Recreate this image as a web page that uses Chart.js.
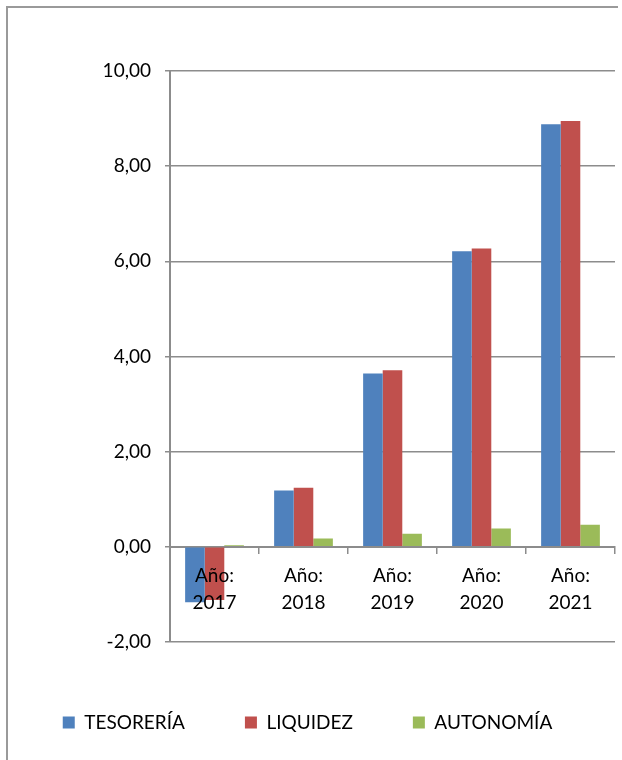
<!DOCTYPE html>
<html>
<head>
<meta charset="utf-8">
<script src="https://cdn.jsdelivr.net/npm/chart.js@4/dist/chart.umd.min.js"></script>
<style>
  html, body { margin: 0; padding: 0; background: #fff; }
  #wrap { position: relative; width: 622px; height: 760px; }
  #frame { position: absolute; left: 6px; top: 6px; width: 610px; height: 760px;
    border-left: 2px solid #9a9a9a; border-top: 2px solid #9a9a9a; }
  canvas { position: absolute; left: 0; top: 0; }
</style>
</head>
<body>
<div id="wrap">
  <div id="frame"></div>
  <canvas id="ratiosChart" width="622" height="760"></canvas>
</div>
<script>
// categories
const years = ['2017', '2018', '2019', '2020', '2021'];
const seriesNames = ['TESORERÍA', 'LIQUIDEZ', 'AUTONOMÍA'];
// series values
const tesoreria = [-1.17, 1.18, 3.64, 6.21, 8.88];
const liquidez = [-1.12, 1.24, 3.71, 6.27, 8.95];
const autonomia = [0.03, 0.17, 0.27, 0.38, 0.46];
// y-axis ticks
const yMin = -2;
const yMax = 10;
const yStep = 2;

const colors = ['#4F81BD', '#C0504D', '#9BBB59'];
const axisGrey = '#8c8c8c';
const font = { family: 'Lato', size: 19 };

const ctx = document.querySelector('#ratiosChart').getContext('2d');

// eslint-disable-next-line no-unused-vars
const ratiosChart = new Chart(ctx, {
  type: 'bar',
  data: {
    labels: years.map((y) => ['Año:', y]),
    datasets: [tesoreria, liquidez, autonomia].map((values, i) => ({
      label: seriesNames[i],
      data: values,
      backgroundColor: colors[i],
      borderWidth: 0,
      categoryPercentage: 0.66,
      barPercentage: 1,
    })),
  },
  options: {
    responsive: false,
    animation: false,
    layout: { padding: { top: 71, right: 7, left: 0, bottom: 18 } },
    plugins: {
      tooltip: { enabled: false },
      legend: {
        position: 'bottom',
        // blank title just to push the legend row down from the plot
        title: { display: true, text: ' ', font: { size: 1 }, padding: 5 },
        labels: {
          color: '#000',
          font,
          boxWidth: 12,
          boxHeight: 12,
          padding: 60,
        },
      },
    },
    scales: {
      x: {
        position: { y: 0 },
        grid: {
          drawOnChartArea: false,
          drawTicks: true,
          tickLength: 6,
          offset: true,
          color: axisGrey,
          lineWidth: 1.5,
        },
        border: { display: true, color: axisGrey, width: 2 },
        ticks: {
          z: 1, // year labels sit on top of the negative bars
          color: '#000',
          font: { ...font, lineHeight: 1.42 },
          padding: 10,
          maxRotation: 0,
        },
      },
      y: {
        min: yMin,
        max: yMax,
        afterFit: (scale) => { scale.width = 170; },
        grid: {
          color: axisGrey,
          lineWidth: 1.5,
          drawTicks: true,
          tickLength: 5,
        },
        border: { display: true, color: axisGrey, width: 2 },
        ticks: {
          stepSize: yStep,
          color: '#000',
          font,
          padding: 14,
          callback: (v) => v.toFixed(2).replace('.', ','),
        },
      },
    },
  },
});
</script>
</body>
</html>
